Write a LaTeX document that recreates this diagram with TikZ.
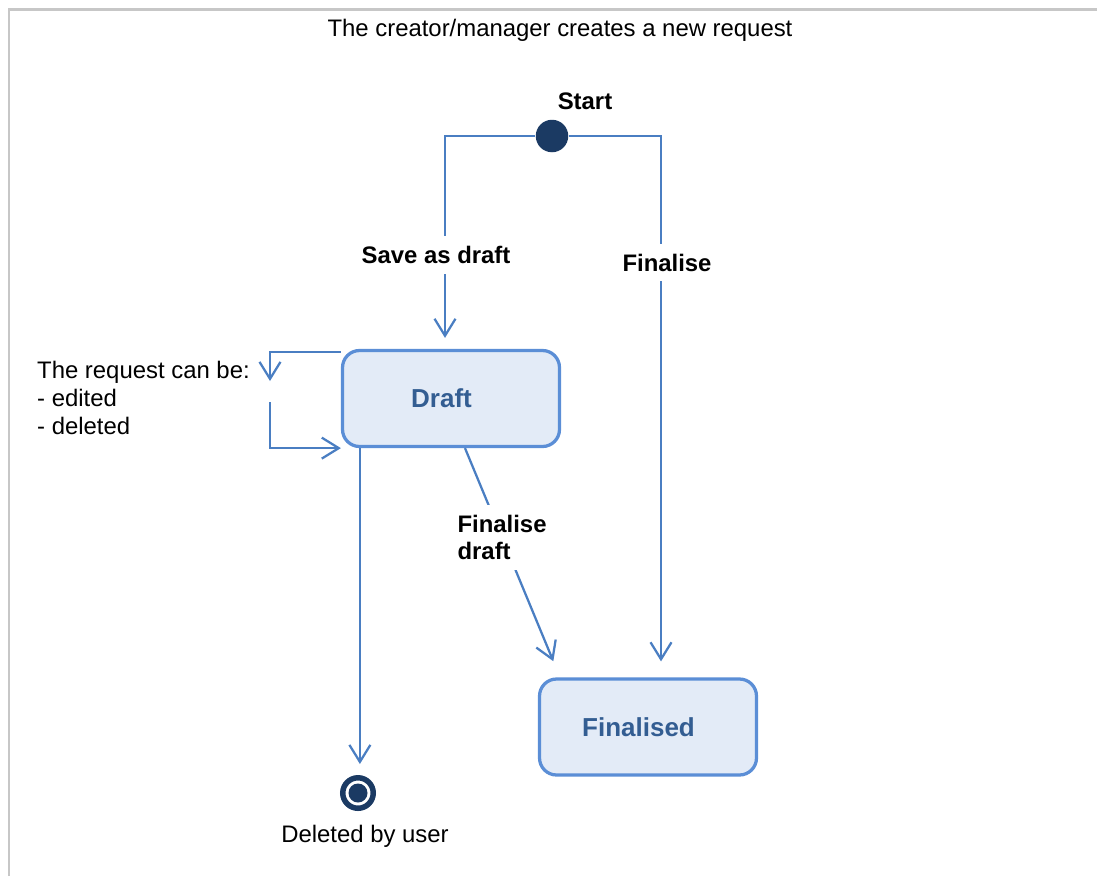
\documentclass[tikz,border=0pt]{standalone}
\usepackage{fontspec}
\setmainfont{Liberation Sans}
\usetikzlibrary{arrows.meta}
\definecolor{flowblue}{HTML}{4A7EC2}
\definecolor{boxedge}{HTML}{5B8ED6}
\definecolor{boxfill}{HTML}{E3EBF7}
\definecolor{boxtext}{HTML}{335D92}
\definecolor{navy}{HTML}{1B3A63}
\begin{document}
\begin{tikzpicture}[x=0.02cm,y=-0.02cm,
		every node/.style={font=\fontsize{13.6pt}{15.8pt}\selectfont},
		statebox/.style={draw=boxedge,fill=boxfill,line width=0.065cm,rounded corners=0.34cm,
			minimum width=4.34cm,minimum height=1.92cm},
		statetext/.style={text=boxtext,xshift=-0.19cm,font=\fontsize{14.8pt}{17pt}\selectfont\bfseries},
		flow/.style={draw=flowblue,line width=0.045cm,-{Straight Barb[length=0.34cm,width=0.42cm]}},
		lab/.style={fill=white,inner sep=0.2cm,font=\fontsize{13.6pt}{15.8pt}\selectfont\bfseries},
		startdot/.style={circle,fill=navy,inner sep=0,minimum size=0.65cm},
		endring/.style={circle,draw=navy,fill=white,line width=0.11cm,inner sep=0,minimum size=0.61cm}]
	\useasboundingbox (0,0) rectangle (1097,876);
	% frame
	\draw[black!22,line width=0.06cm] (9,876) -- (9,9) -- (1097,9);
	\node (title) at (560,30) {The creator/manager creates a new request};
	% states
	\node[startdot] (start) at (552,136) {};
	\node[font=\fontsize{13.6pt}{15.8pt}\selectfont\bfseries] (startlbl) at (585,101) {Start};
	\node[statebox,label={[statetext]center:Draft}] (draft) at (451,398.5) {};
	\node[statebox,label={[statetext]center:Finalised}] (final) at (648,727) {};
	\node[endring] (end) at (358,793) {};
	\fill[navy] (end) circle (0.19cm);
	\node (endlbl) at (365,836) {Deleted by user};
	% transitions
	\draw[flow,shorten >=0.22cm] (start.west) -| ([xshift=-0.12cm]draft.north)
		node[lab,pos=0.78,xshift=-0.18cm] (savelbl) {Save as draft};
	\draw[flow,shorten >=0.32cm] (start.east) -| ([xshift=0.26cm]final.north)
		node[lab,pos=0.617,xshift=0.12cm] (finlbl) {Finalise};
	\draw[flow,shorten >=0.35cm] ([xshift=0.28cm]draft.south) -- ([xshift=-1.76cm]final.north)
		node[lab,pos=0.39,align=left] (fdlbl) {Finalise\\draft};
	\draw[flow,shorten >=0.22cm] ([xshift=0.38cm]draft.south west) -- ([xshift=0.38cm]draft.south west |- end.north);
	% self loop
	\node[anchor=west,align=left] (loopnote) at (31,398) {The request can be:\\- edited\\- deleted};
	\coordinate (loopout) at (270,381);
	\coordinate (loopin) at (270,402);
	\draw[flow] ([yshift=-0.06cm]draft.north west) -| (loopout);
	\draw[flow] (loopin) |- (draft.south west);
\end{tikzpicture}
\end{document}
